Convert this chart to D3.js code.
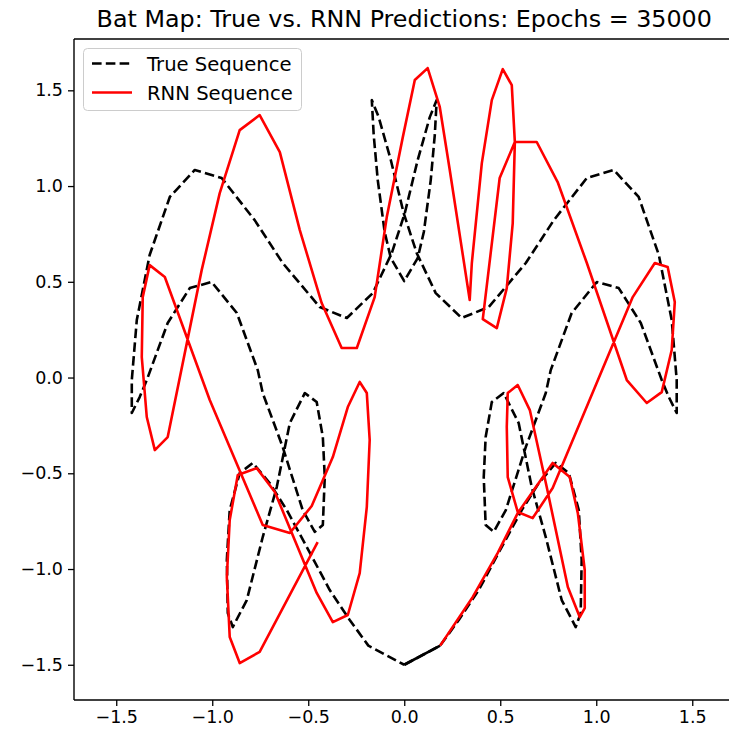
<!DOCTYPE html>
<html>
<head>
<meta charset="utf-8">
<script src="https://cdn.jsdelivr.net/npm/d3@7"></script>
<style>
  html, body { margin: 0; padding: 0; background: #ffffff; }
  svg { display: block; }
  text { font-family: "DejaVu Sans", sans-serif; fill: #000; }
</style>
</head>
<body>
<div id="chart"></div>
<script>
// True bat-map trajectory (closed loop starting at the bottom centre)
const trueX = [
  0.000, 0.187, 0.284, 0.388, 0.492, 0.612, 0.701, 0.789, 0.857, 0.909,
  0.924, 0.919, 0.893, 0.820, 0.737, 0.664, 0.596, 0.518, 0.456, 0.424,
  0.414, 0.424, 0.466, 0.529, 0.633, 0.737, 0.763, 0.872, 1.003, 1.117,
  1.232, 1.341, 1.378, 1.419, 1.419, 1.393, 1.326, 1.221, 1.091, 0.951,
  0.779, 0.633, 0.440, 0.299, 0.164, 0.065, -0.003, -0.070, -0.133, -0.169,
  -0.159, -0.138, -0.102, -0.070, 0.000, 0.070, 0.102, 0.138, 0.159, 0.169,
  0.133, 0.070, 0.003, -0.065, -0.164, -0.299, -0.440, -0.633, -0.779, -0.951,
  -1.091, -1.221, -1.326, -1.393, -1.419, -1.419, -1.378, -1.341, -1.232, -1.117,
  -1.003, -0.872, -0.763, -0.737, -0.633, -0.529, -0.466, -0.424, -0.414, -0.424,
  -0.456, -0.518, -0.596, -0.664, -0.737, -0.820, -0.893, -0.919, -0.924, -0.909,
  -0.857, -0.789, -0.701, -0.612, -0.492, -0.388, -0.284, -0.187, 0.000
];
const trueY = [
  -1.500, -1.400, -1.266, -1.110, -0.914, -0.692, -0.551, -0.446, -0.499, -0.692,
  -0.953, -1.230, -1.303, -1.162, -0.833, -0.572, -0.238, -0.081, -0.128, -0.311,
  -0.520, -0.770, -0.806, -0.692, -0.363, -0.081, 0.039, 0.337, 0.499, 0.467,
  0.285, -0.013, -0.102, -0.185, -0.013, 0.300, 0.640, 0.943, 1.084, 1.042,
  0.822, 0.598, 0.368, 0.311, 0.441, 0.650, 0.859, 1.136, 1.360, 1.449,
  1.266, 1.031, 0.760, 0.624, 0.504, 0.624, 0.760, 1.031, 1.266, 1.449,
  1.360, 1.136, 0.859, 0.650, 0.441, 0.311, 0.368, 0.598, 0.822, 1.042,
  1.084, 0.943, 0.640, 0.300, -0.013, -0.185, -0.102, -0.013, 0.285, 0.467,
  0.499, 0.337, 0.039, -0.081, -0.363, -0.692, -0.806, -0.770, -0.520, -0.311,
  -0.128, -0.081, -0.238, -0.572, -0.833, -1.162, -1.303, -1.230, -0.953, -0.692,
  -0.499, -0.446, -0.551, -0.692, -0.914, -1.110, -1.266, -1.400, -1.500
];

// Seed segment handed to the network before it predicts
const seedX = [0.000, 0.187];
const seedY = [-1.500, -1.400];

// Sequence generated by the RNN
const rnnX = [
  0.187, 0.357, 0.487, 0.591, 0.773, 0.862, 0.904, 0.940, 0.940, 0.914,
  0.852, 0.742, 0.654, 0.591, 0.539, 0.534, 0.539, 0.591, 0.669, 0.773,
  1.190, 1.305, 1.372, 1.409, 1.393, 1.341, 1.263, 1.159, 0.951, 0.799,
  0.690, 0.576, 0.497, 0.409, 0.482, 0.534, 0.565, 0.576, 0.560, 0.513,
  0.456, 0.404, 0.352, 0.341, 0.237, 0.185, 0.122, 0.055, -0.008, -0.091,
  -0.154, -0.247, -0.326, -0.430, -0.544, -0.648, -0.753, -0.857, -0.961, -1.055,
  -1.232, -1.299, -1.341, -1.367, -1.362, -1.326, -1.247, -1.013, -0.737, -0.596,
  -0.482, -0.372, -0.294, -0.232, -0.195, -0.180, -0.195, -0.232, -0.294, -0.372,
  -0.456, -0.674, -0.768, -0.867, -0.909, -0.924, -0.909, -0.857, -0.753, -0.451
];
const rnnY = [
  -1.400, -1.146, -0.916, -0.708, -0.446, -0.520, -0.708, -1.005, -1.204, -1.251,
  -1.094, -0.572, -0.170, -0.039, -0.081, -0.258, -0.520, -0.702, -0.734, -0.577,
  0.420, 0.598, 0.577, 0.394, 0.144, -0.076, -0.133, -0.013, 0.598, 1.021,
  1.230, 1.230, 1.042, 0.305, 0.258, 0.467, 0.807, 1.230, 1.527, 1.611,
  1.449, 1.120, 0.598, 0.405, 1.084, 1.413, 1.616, 1.554, 1.253, 0.838,
  0.420, 0.154, 0.154, 0.389, 0.770, 1.177, 1.371, 1.292, 0.963, 0.561,
  -0.311, -0.379, -0.206, 0.107, 0.420, 0.587, 0.525, -0.117, -0.770, -0.812,
  -0.671, -0.415, -0.154, -0.023, -0.081, -0.326, -0.676, -1.021, -1.240, -1.277,
  -1.125, -0.598, -0.473, -0.509, -0.744, -1.042, -1.355, -1.491, -1.433, -0.859
];

const xTicks = [-1.5, -1.0, -0.5, 0.0, 0.5, 1.0, 1.5];
const yTicks = [-1.5, -1.0, -0.5, 0.0, 0.5, 1.0, 1.5];
const xLimits = [-1.72, 1.72];
const yLimits = [-1.684, 1.768];

const titleText = "Bat Map: True vs. RNN Predictions: Epochs = 35000";
const legendLabels = ["True Sequence", "RNN Sequence"];

const W = 729, H = 734;
const margin = { left: 74, top: 39, right: W - 734.5, bottom: H - 700 };

const svg = d3.select("#chart").append("svg")
  .attr("width", W).attr("height", H)
  .attr("viewBox", `0 0 ${W} ${H}`);

const x = d3.scaleLinear().domain(xLimits).range([margin.left, W - margin.right]);
const y = d3.scaleLinear().domain(yLimits).range([H - margin.bottom, margin.top]);

const fmt = v => d3.format(".1f")(v).replace("-", "\u2212");

svg.append("defs").append("clipPath").attr("id", "plotclip")
  .append("rect")
  .attr("x", x.range()[0]).attr("y", y.range()[1])
  .attr("width", x.range()[1] - x.range()[0])
  .attr("height", y.range()[0] - y.range()[1]);

const toPts = (xs, ys) => xs.map((v, i) => [v, ys[i]]);
const line = d3.line().x(d => x(d[0])).y(d => y(d[1]));

const plot = svg.append("g").attr("clip-path", "url(#plotclip)");

plot.append("path")
  .attr("d", line(toPts(trueX, trueY)))
  .attr("fill", "none").attr("stroke", "#000")
  .attr("stroke-width", 2.6)
  .attr("stroke-dasharray", "9.6,4.2")
  .attr("stroke-linejoin", "round");

plot.append("path")
  .attr("d", line(toPts(seedX, seedY)))
  .attr("fill", "none").attr("stroke", "#000")
  .attr("stroke-width", 2.6)
  .attr("stroke-linejoin", "round");

plot.append("path")
  .attr("d", line(toPts(rnnX, rnnY)))
  .attr("fill", "none").attr("stroke", "#ff0000")
  .attr("stroke-width", 2.6)
  .attr("stroke-linejoin", "round");

// Axes
const tickFont = 17.5;
const xAxis = d3.axisBottom(x).tickValues(xTicks).tickFormat(fmt).tickSize(6).tickPadding(5);
const yAxis = d3.axisLeft(y).tickValues(yTicks).tickFormat(fmt).tickSize(6).tickPadding(5);

const gx = svg.append("g").attr("transform", `translate(0,${y.range()[0]})`).call(xAxis);
const gy = svg.append("g").attr("transform", `translate(${x.range()[0]},0)`).call(yAxis);
[gx, gy].forEach(g => {
  g.select(".domain").remove();
  g.selectAll(".tick line").attr("stroke", "#000").attr("stroke-width", 1.3);
  g.selectAll(".tick text").attr("font-family", "DejaVu Sans").attr("font-size", tickFont).attr("fill", "#000");
});

// Spines: left, bottom, top (right edge lies past the canvas)
const sp = svg.append("g").attr("stroke", "#000").attr("stroke-width", 1.4).attr("fill", "none");
sp.append("line").attr("x1", x.range()[0]).attr("x2", x.range()[0]).attr("y1", y.range()[0]).attr("y2", y.range()[1]);
sp.append("line").attr("x1", x.range()[0]).attr("x2", x.range()[1]).attr("y1", y.range()[0]).attr("y2", y.range()[0]);
sp.append("line").attr("x1", x.range()[0]).attr("x2", x.range()[1]).attr("y1", y.range()[1]).attr("y2", y.range()[1]);
sp.append("line").attr("x1", x.range()[1]).attr("x2", x.range()[1]).attr("y1", y.range()[0]).attr("y2", y.range()[1]);

// Title
svg.append("text")
  .attr("x", (x.range()[0] + x.range()[1]) / 2)
  .attr("y", 27)
  .attr("text-anchor", "middle")
  .attr("font-size", 23.8)
  .text(titleText);

// Legend
const leg = svg.append("g");
leg.append("rect")
  .attr("x", 83.5).attr("y", 48.5).attr("width", 218).attr("height", 62)
  .attr("rx", 4).attr("ry", 4)
  .attr("fill", "#fff").attr("fill-opacity", 0.8)
  .attr("stroke", "#cccccc").attr("stroke-width", 1);
const legStyles = [
  { color: "#000", dash: "9.6,4.2" },
  { color: "#ff0000", dash: null }
];
legendLabels.forEach((lab, i) => {
  const yy = 63.5 + i * 29;
  const l = leg.append("line")
    .attr("x1", 92).attr("x2", 132).attr("y1", yy).attr("y2", yy)
    .attr("stroke", legStyles[i].color).attr("stroke-width", 2.6);
  if (legStyles[i].dash) l.attr("stroke-dasharray", legStyles[i].dash);
  leg.append("text")
    .attr("x", 147).attr("y", yy + 7)
    .attr("font-size", 19.6)
    .text(lab);
});
</script>
</body>
</html>
